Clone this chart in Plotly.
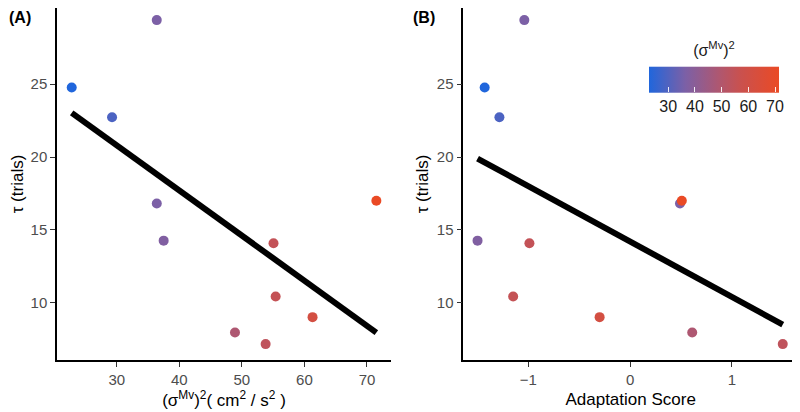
import numpy as np
import plotly.graph_objects as go

# Data
sigma_mv2 = [36.4, 22.8, 29.25, 36.4, 71.5, 37.5, 55.06, 55.4, 61.3, 48.9, 53.8]
adapt_score = [-1.04, -1.43, -1.285, 0.49, 0.508, -1.5, -0.99, -1.15, -0.30, 0.61, 1.50]
tau = [29.4, 24.77, 22.74, 16.82, 17.0, 14.27, 14.09, 10.44, 9.02, 7.97, 7.17]

x_ticks_a = [30, 40, 50, 60, 70]
x_ticks_b = [-1, 0, 1]
y_ticks = [10, 15, 20, 25]
cbar_ticks = [30, 40, 50, 60, 70]

colorscale = [
    [0.0, "#2066dc"],
    [0.28, "#7c60a6"],
    [0.54, "#af5770"],
    [0.70, "#c9514f"],
    [1.0, "#ea4a25"],
]

FONT = "Liberation Sans, Arial, sans-serif"
cmin, cmax = min(sigma_mv2), max(sigma_mv2)

# The page body has an 8px margin; the figure fills the rest of the 800x412 window.
W, H, OFF = 792, 404, 8


def fx(px):
    return (px - OFF) / W


def fy(py):
    return 1 - (py - OFF) / H


fig = go.Figure()


def fit_line(x, y):
    k, b = np.polyfit(x, y, 1)
    xs = np.array([min(x), max(x)])
    return xs, k * xs + b


for i, (xv, xa, ya) in enumerate([(sigma_mv2, "x", "y"), (adapt_score, "x2", "y2")]):
    xs, ys = fit_line(xv, tau)
    fig.add_trace(go.Scatter(
        x=xv, y=tau, mode="markers", xaxis=xa, yaxis=ya,
        marker=dict(
            size=10, color=sigma_mv2, colorscale=colorscale, cmin=cmin, cmax=cmax,
            showscale=(i == 1),
            colorbar=dict(
                orientation="h", x=fx(714), xanchor="center", y=fy(37), yanchor="top",
                len=150 / W, lenmode="fraction", thickness=26, outlinewidth=0,
                ticks="inside", ticklen=5, tickcolor="rgba(255,255,255,0.9)", tickwidth=1,
                tickvals=cbar_ticks,
                tickfont=dict(family=FONT, size=16, color="#1a1a1a"),
                title=dict(text="(σ<sup>Mv</sup>)<sup>2</sup>", side="top",
                           font=dict(family=FONT, size=16, color="#1a1a1a")),
            ),
        ),
        showlegend=False,
    ))
    fig.add_trace(go.Scatter(
        x=xs, y=ys, mode="lines", xaxis=xa, yaxis=ya,
        line=dict(color="black", width=6), showlegend=False,
    ))

axis_common = dict(
    showline=True, linecolor="black", linewidth=1.5, ticks="outside", ticklen=5,
    tickcolor="#333333", tickwidth=1.2, showgrid=False, zeroline=False, automargin=False,
    tickfont=dict(family=FONT, size=15, color="#4d4d4d"),
)
ydom = [fy(360), 1.0]
yrange = [6.08, 30.23]

fig.update_layout(
    width=W, height=H, margin=dict(l=0, r=0, t=0, b=0, autoexpand=False),
    plot_bgcolor="white", paper_bgcolor="white",
    xaxis=dict(axis_common, domain=[fx(57), fx(391)], range=[20.45, 73.84],
               tickvals=x_ticks_a, anchor="y",
               title=dict(text="(σ<sup>Mv</sup>)<sup>2</sup>( cm<sup>2</sup> / s<sup>2</sup> )",
                          font=dict(family=FONT, size=17, color="black"), standoff=6)),
    yaxis=dict(axis_common, domain=ydom, range=yrange, tickvals=y_ticks, anchor="x",
               title=dict(text="τ (trials)", font=dict(family=FONT, size=17, color="black"),
                          standoff=4)),
    xaxis2=dict(axis_common, domain=[fx(463.3), fx(798)], range=[-1.64, 1.65],
                tickvals=x_ticks_b, anchor="y2",
                title=dict(text="Adaptation Score", font=dict(family=FONT, size=17, color="black"),
                           standoff=6)),
    yaxis2=dict(axis_common, domain=ydom, range=yrange, tickvals=y_ticks, anchor="x2",
                title=dict(text="τ (trials)", font=dict(family=FONT, size=17, color="black"),
                           standoff=4)),
    annotations=[
        dict(text="<b>(A)</b>", x=0, y=1, xref="paper", yref="paper",
             xanchor="left", yanchor="top", showarrow=False, borderpad=0,
             font=dict(family=FONT, size=16, color="black")),
        dict(text="<b>(B)</b>", x=fx(412), y=1, xref="paper", yref="paper",
             xanchor="left", yanchor="top", showarrow=False, borderpad=0,
             font=dict(family=FONT, size=16, color="black")),
    ],
)

fig.write_html("out.html")
